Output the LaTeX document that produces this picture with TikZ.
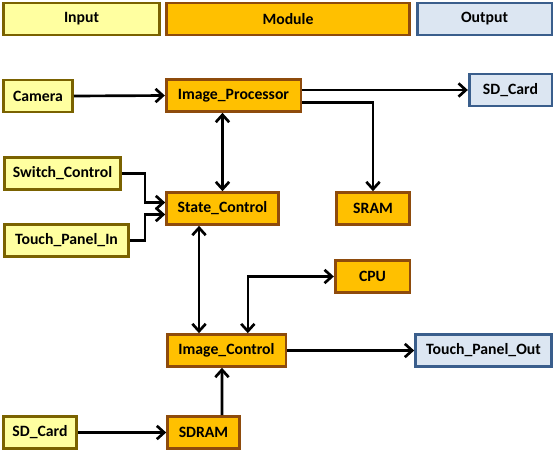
\documentclass[tikz,border=0pt]{standalone}
\usepackage{fontspec}
\setmainfont{Carlito}
\usetikzlibrary{arrows.meta}

\definecolor{infill}{HTML}{FFFFA0}
\definecolor{indraw}{HTML}{7A6200}
\definecolor{modfill}{HTML}{FFC000}
\definecolor{moddraw}{HTML}{8E4B0C}
\definecolor{outfill}{HTML}{DCE6F2}
\definecolor{outdraw}{HTML}{3A5E8C}

\tikzset{
    box/.style = {line width = 2pt, font = \fontsize{11.8}{13}\bfseries, text = black, inner sep = 0pt, minimum height = 24pt},
    inbox/.style = {box, fill = infill, draw = indraw},
    modbox/.style = {box, fill = modfill, draw = moddraw},
    outbox/.style = {box, fill = outfill, draw = outdraw},
    conn/.style = {line width = 2pt, -{Straight Barb[length = 5.5pt, width = 10pt]}},
    bothconn/.style = {line width = 2pt, {Straight Barb[length = 5.5pt, width = 10pt]}-{Straight Barb[length = 5.5pt, width = 10pt]}}
}

\begin{document}
\begin{tikzpicture}[x = .75pt, y = -.75pt]

    \useasboundingbox (0, 0) rectangle (554, 451);

    % legend
    \node [inbox,  minimum width = 117pt] (legend input)  at (81.5, 19)  {Input};
    \node [modbox, minimum width = 182pt] (legend module) at (288, 19)   {Module};
    \node [outbox, minimum width = 101pt] (legend output) at (484.5, 19) {Output};

    % inputs
    \node [inbox, minimum width = 52pt] (camera)         at (38, 96)     {Camera};
    \node [inbox, minimum width = 87pt] (switch control) at (62.5, 173.5) {Switch\_Control};
    \node [inbox, minimum width = 93pt] (touch panel in) at (66.5, 240.5) {Touch\_Panel\_In};
    \node [inbox, minimum width = 55pt] (sd card in)     at (40, 432.5)  {SD\_Card};

    % modules
    \node [modbox, minimum width = 101pt] (image processor) at (233.5, 95.5) {Image\_Processor};
    \node [modbox, minimum width = 84pt]  (state control)   at (222.5, 208.5) {State\_Control};
    \node [modbox, minimum width = 55pt]  (sram)            at (373, 208.5)   {SRAM};
    \node [modbox, minimum width = 56pt]  (cpu)             at (372.5, 276.5) {CPU};
    \node [modbox, minimum width = 89pt]  (image control)   at (226.5, 350.5) {Image\_Control};
    \node [modbox, minimum width = 54pt]  (sdram)           at (203.5, 432.5) {SDRAM};

    % outputs
    \node [outbox, minimum width = 62pt]  (sd card out)     at (510.5, 90)    {SD\_Card};
    \node [outbox, minimum width = 102pt] (touch panel out) at (483.5, 350.5) {Touch\_Panel\_Out};

    \draw [conn] (camera.east) -- (image processor.west);
    \draw [conn] (image processor.east |- sd card out.west) -- (sd card out.west);
    \draw [conn] ([yshift = -5pt]image processor.east) -| (sram.north);
    \draw [bothconn] (state control.north) -- (state control.north |- image processor.south);
    \draw [conn] (switch control.east) -- ++(23, 0) |- ([yshift = 4.5pt]state control.west);
    \draw [conn] (touch panel in.east) -- ++(15, 0) |- ([yshift = -4.5pt]state control.west);
    \draw [bothconn] ([xshift = -17.6pt]state control.south) -- ([xshift = -20.6pt]image control.north);
    \draw [bothconn] ([xshift = 16pt]image control.north) |- (cpu.west);
    \draw [conn] (image control.east) -- (touch panel out.west);
    \draw [conn] (sd card in.east) -- (sdram.west);
    \draw [conn] ([xshift = 13.9pt]sdram.north) -- ([xshift = -3.4pt]image control.south);

\end{tikzpicture}
\end{document}
